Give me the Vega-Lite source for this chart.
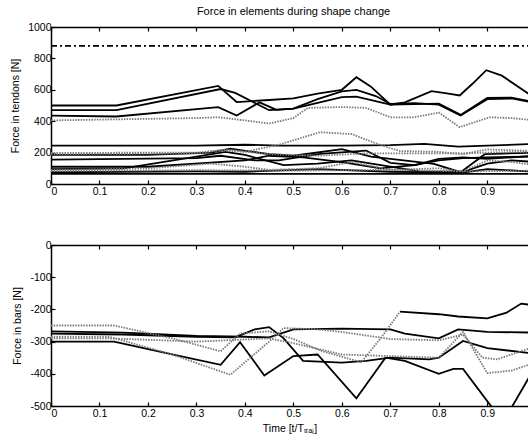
{
  "$schema": "https://vega.github.io/schema/vega-lite/v6.json",
  "background": "white",
  "padding": {"left": 10, "top": 6, "right": 0, "bottom": 0},
  "bounds": "flush",
  "spacing": 61,
  "config": {
    "view": {"stroke": null},
    "font": "Liberation Sans",
    "axis": {
      "domainColor": "black", "domainWidth": 1.5, "tickColor": "black", "tickWidth": 1.2,
      "labelColor": "black", "labelFont": "Liberation Sans", "labelFontSize": 10.5, "labelOverlap": false,
      "titleColor": "black", "titleFont": "Liberation Sans", "titleFontSize": 10.5, "titleFontWeight": "normal",
      "grid": false, "tickSize": -4, "labelPadding": 4
    },
    "axisX": {"labelPadding": 6},
    "title": {"font": "Liberation Sans", "fontSize": 11, "fontWeight": "normal", "color": "black"}
  },
  "datasets": {
    "tendons": [
      {"el": "T1", "t": 0, "F": 500}, {"el": "T1", "t": 0.135, "F": 500}, {"el": "T1", "t": 0.345, "F": 625}, {"el": "T1", "t": 0.383, "F": 522}, {"el": "T1", "t": 0.45, "F": 535}, {"el": "T1", "t": 0.5, "F": 545}, {"el": "T1", "t": 0.55, "F": 575}, {"el": "T1", "t": 0.6, "F": 600}, {"el": "T1", "t": 0.63, "F": 680}, {"el": "T1", "t": 0.66, "F": 620}, {"el": "T1", "t": 0.7, "F": 505}, {"el": "T1", "t": 0.73, "F": 520}, {"el": "T1", "t": 0.785, "F": 592}, {"el": "T1", "t": 0.82, "F": 575}, {"el": "T1", "t": 0.843, "F": 564}, {"el": "T1", "t": 0.87, "F": 640}, {"el": "T1", "t": 0.898, "F": 725}, {"el": "T1", "t": 0.93, "F": 690}, {"el": "T1", "t": 0.985, "F": 575}, {"el": "T1", "t": 1.0, "F": 560},
      {"el": "T2", "t": 0, "F": 470}, {"el": "T2", "t": 0.135, "F": 470}, {"el": "T2", "t": 0.35, "F": 605}, {"el": "T2", "t": 0.38, "F": 580}, {"el": "T2", "t": 0.45, "F": 470}, {"el": "T2", "t": 0.5, "F": 480}, {"el": "T2", "t": 0.55, "F": 540}, {"el": "T2", "t": 0.6, "F": 590}, {"el": "T2", "t": 0.63, "F": 600}, {"el": "T2", "t": 0.67, "F": 560}, {"el": "T2", "t": 0.7, "F": 510}, {"el": "T2", "t": 0.75, "F": 515}, {"el": "T2", "t": 0.8, "F": 505}, {"el": "T2", "t": 0.845, "F": 436}, {"el": "T2", "t": 0.9, "F": 540}, {"el": "T2", "t": 0.95, "F": 545}, {"el": "T2", "t": 1.0, "F": 515},
      {"el": "T3", "t": 0, "F": 436}, {"el": "T3", "t": 0.135, "F": 430}, {"el": "T3", "t": 0.345, "F": 489}, {"el": "T3", "t": 0.383, "F": 436}, {"el": "T3", "t": 0.43, "F": 520}, {"el": "T3", "t": 0.465, "F": 472}, {"el": "T3", "t": 0.5, "F": 480}, {"el": "T3", "t": 0.6, "F": 553}, {"el": "T3", "t": 0.63, "F": 557}, {"el": "T3", "t": 0.7, "F": 505}, {"el": "T3", "t": 0.8, "F": 512}, {"el": "T3", "t": 0.845, "F": 440}, {"el": "T3", "t": 0.9, "F": 548}, {"el": "T3", "t": 0.95, "F": 550}, {"el": "T3", "t": 1.0, "F": 520},
      {"el": "T4", "t": 0, "F": 405}, {"el": "T4", "t": 0.1, "F": 410}, {"el": "T4", "t": 0.3, "F": 420}, {"el": "T4", "t": 0.345, "F": 425}, {"el": "T4", "t": 0.4, "F": 405}, {"el": "T4", "t": 0.45, "F": 385}, {"el": "T4", "t": 0.5, "F": 420}, {"el": "T4", "t": 0.53, "F": 485}, {"el": "T4", "t": 0.6, "F": 490}, {"el": "T4", "t": 0.65, "F": 485}, {"el": "T4", "t": 0.7, "F": 425}, {"el": "T4", "t": 0.75, "F": 425}, {"el": "T4", "t": 0.8, "F": 455}, {"el": "T4", "t": 0.843, "F": 362}, {"el": "T4", "t": 0.905, "F": 425}, {"el": "T4", "t": 0.95, "F": 420}, {"el": "T4", "t": 1.0, "F": 405},
      {"el": "T5", "t": 0, "F": 880}, {"el": "T5", "t": 1.0, "F": 880},
      {"el": "T6", "t": 0, "F": 245}, {"el": "T6", "t": 0.3, "F": 245}, {"el": "T6", "t": 0.4, "F": 250}, {"el": "T6", "t": 0.47, "F": 245}, {"el": "T6", "t": 0.6, "F": 245}, {"el": "T6", "t": 0.7, "F": 248}, {"el": "T6", "t": 0.77, "F": 255}, {"el": "T6", "t": 0.84, "F": 238}, {"el": "T6", "t": 0.9, "F": 245}, {"el": "T6", "t": 1.0, "F": 255},
      {"el": "T7", "t": 0, "F": 198}, {"el": "T7", "t": 0.3, "F": 200}, {"el": "T7", "t": 0.35, "F": 215}, {"el": "T7", "t": 0.4, "F": 205}, {"el": "T7", "t": 0.47, "F": 250}, {"el": "T7", "t": 0.555, "F": 330}, {"el": "T7", "t": 0.62, "F": 318}, {"el": "T7", "t": 0.68, "F": 248}, {"el": "T7", "t": 0.72, "F": 210}, {"el": "T7", "t": 0.8, "F": 205}, {"el": "T7", "t": 0.85, "F": 190}, {"el": "T7", "t": 0.9, "F": 220}, {"el": "T7", "t": 1.0, "F": 210},
      {"el": "T8", "t": 0, "F": 190}, {"el": "T8", "t": 0.3, "F": 195}, {"el": "T8", "t": 0.36, "F": 220}, {"el": "T8", "t": 0.45, "F": 190}, {"el": "T8", "t": 0.55, "F": 180}, {"el": "T8", "t": 0.65, "F": 195}, {"el": "T8", "t": 0.75, "F": 195}, {"el": "T8", "t": 0.85, "F": 195}, {"el": "T8", "t": 0.9, "F": 200}, {"el": "T8", "t": 1.0, "F": 205},
      {"el": "T9", "t": 0, "F": 185}, {"el": "T9", "t": 0.2, "F": 185}, {"el": "T9", "t": 0.33, "F": 200}, {"el": "T9", "t": 0.37, "F": 225}, {"el": "T9", "t": 0.45, "F": 190}, {"el": "T9", "t": 0.5, "F": 180}, {"el": "T9", "t": 0.6, "F": 222}, {"el": "T9", "t": 0.66, "F": 175}, {"el": "T9", "t": 0.79, "F": 128}, {"el": "T9", "t": 0.845, "F": 75}, {"el": "T9", "t": 0.895, "F": 190}, {"el": "T9", "t": 1.0, "F": 200},
      {"el": "T10", "t": 0, "F": 155}, {"el": "T10", "t": 0.3, "F": 165}, {"el": "T10", "t": 0.35, "F": 180}, {"el": "T10", "t": 0.42, "F": 150}, {"el": "T10", "t": 0.47, "F": 150}, {"el": "T10", "t": 0.555, "F": 192}, {"el": "T10", "t": 0.65, "F": 213}, {"el": "T10", "t": 0.7, "F": 135}, {"el": "T10", "t": 0.75, "F": 120}, {"el": "T10", "t": 0.8, "F": 150}, {"el": "T10", "t": 0.85, "F": 165}, {"el": "T10", "t": 0.9, "F": 170}, {"el": "T10", "t": 1.0, "F": 175},
      {"el": "T11", "t": 0, "F": 95}, {"el": "T11", "t": 0.15, "F": 100}, {"el": "T11", "t": 0.3, "F": 175}, {"el": "T11", "t": 0.36, "F": 205}, {"el": "T11", "t": 0.4, "F": 185}, {"el": "T11", "t": 0.48, "F": 120}, {"el": "T11", "t": 0.55, "F": 130}, {"el": "T11", "t": 0.62, "F": 150}, {"el": "T11", "t": 0.7, "F": 110}, {"el": "T11", "t": 0.76, "F": 80}, {"el": "T11", "t": 0.85, "F": 78}, {"el": "T11", "t": 0.9, "F": 130}, {"el": "T11", "t": 0.95, "F": 150}, {"el": "T11", "t": 1.0, "F": 140},
      {"el": "T12", "t": 0, "F": 90}, {"el": "T12", "t": 0.2, "F": 100}, {"el": "T12", "t": 0.33, "F": 130}, {"el": "T12", "t": 0.4, "F": 110}, {"el": "T12", "t": 0.45, "F": 90}, {"el": "T12", "t": 0.55, "F": 100}, {"el": "T12", "t": 0.62, "F": 140}, {"el": "T12", "t": 0.7, "F": 90}, {"el": "T12", "t": 0.8, "F": 100}, {"el": "T12", "t": 0.85, "F": 80}, {"el": "T12", "t": 0.9, "F": 150}, {"el": "T12", "t": 0.95, "F": 140}, {"el": "T12", "t": 1.0, "F": 120},
      {"el": "T13", "t": 0, "F": 75}, {"el": "T13", "t": 0.3, "F": 80}, {"el": "T13", "t": 0.4, "F": 78}, {"el": "T13", "t": 0.55, "F": 95}, {"el": "T13", "t": 0.7, "F": 78}, {"el": "T13", "t": 0.85, "F": 72}, {"el": "T13", "t": 0.9, "F": 95}, {"el": "T13", "t": 1.0, "F": 78},
      {"el": "T14", "t": 0, "F": 110}, {"el": "T14", "t": 0.2, "F": 110}, {"el": "T14", "t": 0.4, "F": 150}, {"el": "T14", "t": 0.45, "F": 180}, {"el": "T14", "t": 0.52, "F": 170}, {"el": "T14", "t": 0.6, "F": 140}, {"el": "T14", "t": 0.68, "F": 100}, {"el": "T14", "t": 0.75, "F": 120}, {"el": "T14", "t": 0.8, "F": 160}, {"el": "T14", "t": 0.85, "F": 170}, {"el": "T14", "t": 0.9, "F": 160}, {"el": "T14", "t": 1.0, "F": 180},
      {"el": "T15", "t": 0, "F": 65}, {"el": "T15", "t": 1.0, "F": 65},
      {"el": "T16", "t": 0, "F": 82}, {"el": "T16", "t": 0.3, "F": 88}, {"el": "T16", "t": 0.5, "F": 85}, {"el": "T16", "t": 0.7, "F": 90}, {"el": "T16", "t": 0.85, "F": 80}, {"el": "T16", "t": 1.0, "F": 85}
    ],
    "bars": [
      {"el": "B1", "t": 0, "F": -268}, {"el": "B1", "t": 0.15, "F": -272}, {"el": "B1", "t": 0.3, "F": -282}, {"el": "B1", "t": 0.4, "F": -285}, {"el": "B1", "t": 0.45, "F": -287}, {"el": "B1", "t": 0.5, "F": -262}, {"el": "B1", "t": 0.6, "F": -260}, {"el": "B1", "t": 0.7, "F": -262}, {"el": "B1", "t": 0.73, "F": -275}, {"el": "B1", "t": 0.8, "F": -290}, {"el": "B1", "t": 0.84, "F": -262}, {"el": "B1", "t": 0.9, "F": -270}, {"el": "B1", "t": 1.0, "F": -272},
      {"el": "B2", "t": 0, "F": -250}, {"el": "B2", "t": 0.13, "F": -250}, {"el": "B2", "t": 0.25, "F": -290}, {"el": "B2", "t": 0.35, "F": -330}, {"el": "B2", "t": 0.39, "F": -275}, {"el": "B2", "t": 0.45, "F": -268}, {"el": "B2", "t": 0.5, "F": -292}, {"el": "B2", "t": 0.56, "F": -330}, {"el": "B2", "t": 0.64, "F": -364}, {"el": "B2", "t": 0.68, "F": -290}, {"el": "B2", "t": 0.72, "F": -207},
      {"el": "B7", "t": 0.72, "F": -207}, {"el": "B7", "t": 0.8, "F": -215}, {"el": "B7", "t": 0.84, "F": -222}, {"el": "B7", "t": 0.9, "F": -228}, {"el": "B7", "t": 0.94, "F": -210}, {"el": "B7", "t": 0.97, "F": -182}, {"el": "B7", "t": 1.0, "F": -188},
      {"el": "B3", "t": 0, "F": -300}, {"el": "B3", "t": 0.13, "F": -300}, {"el": "B3", "t": 0.25, "F": -340}, {"el": "B3", "t": 0.35, "F": -372}, {"el": "B3", "t": 0.39, "F": -302}, {"el": "B3", "t": 0.44, "F": -405}, {"el": "B3", "t": 0.5, "F": -345}, {"el": "B3", "t": 0.55, "F": -340}, {"el": "B3", "t": 0.63, "F": -476}, {"el": "B3", "t": 0.69, "F": -350}, {"el": "B3", "t": 0.73, "F": -360}, {"el": "B3", "t": 0.8, "F": -400}, {"el": "B3", "t": 0.83, "F": -385}, {"el": "B3", "t": 0.85, "F": -385}, {"el": "B3", "t": 0.91, "F": -505}, {"el": "B3", "t": 0.95, "F": -505}, {"el": "B3", "t": 1.0, "F": -375},
      {"el": "B4", "t": 0, "F": -275}, {"el": "B4", "t": 0.15, "F": -278}, {"el": "B4", "t": 0.3, "F": -285}, {"el": "B4", "t": 0.38, "F": -287}, {"el": "B4", "t": 0.42, "F": -262}, {"el": "B4", "t": 0.45, "F": -255}, {"el": "B4", "t": 0.48, "F": -290}, {"el": "B4", "t": 0.52, "F": -360}, {"el": "B4", "t": 0.6, "F": -365}, {"el": "B4", "t": 0.65, "F": -360}, {"el": "B4", "t": 0.7, "F": -350}, {"el": "B4", "t": 0.78, "F": -355}, {"el": "B4", "t": 0.8, "F": -350}, {"el": "B4", "t": 0.85, "F": -298}, {"el": "B4", "t": 0.9, "F": -320}, {"el": "B4", "t": 1.0, "F": -338},
      {"el": "B5", "t": 0, "F": -285}, {"el": "B5", "t": 0.12, "F": -285}, {"el": "B5", "t": 0.25, "F": -340}, {"el": "B5", "t": 0.37, "F": -403}, {"el": "B5", "t": 0.45, "F": -300}, {"el": "B5", "t": 0.48, "F": -258}, {"el": "B5", "t": 0.55, "F": -262}, {"el": "B5", "t": 0.6, "F": -270}, {"el": "B5", "t": 0.7, "F": -292}, {"el": "B5", "t": 0.8, "F": -296}, {"el": "B5", "t": 0.85, "F": -278}, {"el": "B5", "t": 0.89, "F": -350}, {"el": "B5", "t": 0.92, "F": -355}, {"el": "B5", "t": 1.0, "F": -315},
      {"el": "B6", "t": 0, "F": -290}, {"el": "B6", "t": 0.12, "F": -290}, {"el": "B6", "t": 0.3, "F": -300}, {"el": "B6", "t": 0.45, "F": -290}, {"el": "B6", "t": 0.5, "F": -305}, {"el": "B6", "t": 0.6, "F": -340}, {"el": "B6", "t": 0.7, "F": -345}, {"el": "B6", "t": 0.8, "F": -350}, {"el": "B6", "t": 0.85, "F": -270}, {"el": "B6", "t": 0.9, "F": -398}, {"el": "B6", "t": 0.95, "F": -390}, {"el": "B6", "t": 1.0, "F": -365}
    ]
  },
  "vconcat": [
    {
      "width": 477, "height": 157,
      "title": {"text": "Force in elements during shape change", "offset": 5, "dx": 4},
      "data": {"name": "tendons"},
      "resolve": {"axis": {"x": "independent"}},
      "layer": [
        {
          "transform": [{"filter": {"field": "el", "oneOf": ["T1", "T2", "T3", "T6", "T9", "T10", "T11", "T13", "T14", "T15"]}}],
          "mark": {"type": "line", "color": "black", "strokeWidth": 1.8, "clip": true},
          "encoding": {
            "x": {"field": "t", "type": "quantitative", "scale": {"domain": [0, 0.984], "nice": false},
              "axis": {"orient": "bottom", "title": null, "values": [0, 0.1, 0.2, 0.3, 0.4, 0.5, 0.6, 0.7, 0.8, 0.9], "format": "~g"}},
            "y": {"field": "F", "type": "quantitative", "scale": {"domain": [0, 1000], "nice": false},
              "axis": {"title": "Force in tendons [N]", "values": [0, 200, 400, 600, 800, 1000], "titlePadding": 7, "labelOverlap": false, "format": "d"}},
            "detail": {"field": "el"}
          }
        },
        {
          "transform": [{"filter": {"field": "el", "oneOf": ["T4", "T7", "T8", "T12", "T16"]}}],
          "mark": {"type": "line", "color": "#7a7a7a", "strokeWidth": 1.8, "strokeDash": [1.5, 1.2], "clip": true},
          "encoding": {
            "x": {"field": "t", "type": "quantitative", "axis": {"orient": "top", "title": null, "labels": false, "values": [0, 0.1, 0.2, 0.3, 0.4, 0.5, 0.6, 0.7, 0.8, 0.9]}},
            "y": {"field": "F", "type": "quantitative",
              "axis": {"title": "Force in tendons [N]", "values": [0, 200, 400, 600, 800, 1000], "titlePadding": 7, "labelOverlap": false, "format": "d"}},
            "detail": {"field": "el"}
          }
        },
        {
          "transform": [{"filter": {"field": "el", "equal": "T5"}}],
          "mark": {"type": "line", "color": "black", "strokeWidth": 1.8, "strokeDash": [6, 3, 2, 3], "clip": true},
          "encoding": {
            "x": {"field": "t", "type": "quantitative", "axis": null},
            "y": {"field": "F", "type": "quantitative",
              "axis": {"title": "Force in tendons [N]", "values": [0, 200, 400, 600, 800, 1000], "titlePadding": 7, "labelOverlap": false, "format": "d"}}
          }
        }
      ]
    },
    {
      "width": 477, "height": 161,
      "data": {"name": "bars"},
      "resolve": {"axis": {"x": "independent"}},
      "layer": [
        {
          "transform": [{"filter": {"field": "el", "oneOf": ["B1", "B3", "B4", "B7"]}}],
          "mark": {"type": "line", "color": "black", "strokeWidth": 1.8, "clip": true},
          "encoding": {
            "x": {"field": "t", "type": "quantitative", "scale": {"domain": [0, 0.984], "nice": false},
              "axis": {"orient": "bottom", "title": "Time [t/Tₜᵣₐⱼ]", "titlePadding": 5, "values": [0, 0.1, 0.2, 0.3, 0.4, 0.5, 0.6, 0.7, 0.8, 0.9], "format": "~g"}},
            "y": {"field": "F", "type": "quantitative", "scale": {"domain": [-500, 0], "nice": false},
              "axis": {"title": "Force in bars [N]", "values": [-500, -400, -300, -200, -100, 0], "titlePadding": 7, "labelOverlap": false, "labelExpr": "replace(datum.label, '−', '-')"}},
            "detail": {"field": "el"}
          }
        },
        {
          "transform": [{"filter": {"field": "el", "oneOf": ["B2", "B5", "B6"]}}],
          "mark": {"type": "line", "color": "#7a7a7a", "strokeWidth": 1.8, "strokeDash": [1.5, 1.2], "clip": true},
          "encoding": {
            "x": {"field": "t", "type": "quantitative", "axis": {"orient": "top", "title": null, "labels": false, "values": [0, 0.1, 0.2, 0.3, 0.4, 0.5, 0.6, 0.7, 0.8, 0.9]}},
            "y": {"field": "F", "type": "quantitative",
              "axis": {"title": "Force in bars [N]", "values": [-500, -400, -300, -200, -100, 0], "titlePadding": 7, "labelOverlap": false, "labelExpr": "replace(datum.label, '−', '-')"}},
            "detail": {"field": "el"}
          }
        }
      ]
    }
  ]
}
